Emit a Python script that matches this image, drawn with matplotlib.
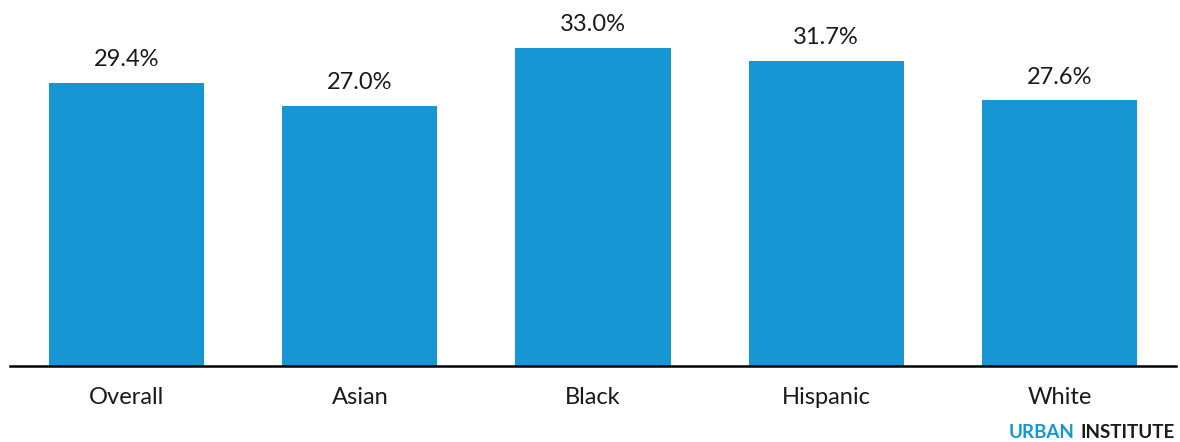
import matplotlib
matplotlib.use("Agg")
import matplotlib.pyplot as plt

plt.rcParams['font.family'] = ['Lato', 'DejaVu Sans']

categories = ["Overall", "Asian", "Black", "Hispanic", "White"]
values = [29.4, 27.0, 33.0, 31.7, 27.6]
value_labels = ["29.4%", "27.0%", "33.0%", "31.7%", "27.6%"]

BLUE = "#1696d2"
W, H = 1180, 442

fig = plt.figure(figsize=(W / 100, H / 100), dpi=100)
ax = fig.add_axes([10 / W, 1 - 366 / H, 1166 / W, 366 / H])

x = list(range(len(categories)))
ax.bar(x, values, width=0.665, color=BLUE, zorder=2)
ax.set_xlim(-0.5, len(categories) - 0.5)
ax.set_ylim(0, 38)

for s in ("top", "right", "left"):
    ax.spines[s].set_visible(False)
ax.spines["bottom"].set_linewidth(1.8)
ax.spines["bottom"].set_color("black")
ax.spines["bottom"].set_zorder(3)
ax.set_yticks([])
ax.set_xticks([])

for xi, v, lab in zip(x, values, value_labels):
    ax.annotate(lab, xy=(xi, v), xytext=(0, 12), textcoords="offset points",
                ha="center", va="baseline", fontsize=17, color="#1a1a1a")

for xi, cat in zip(x, categories):
    ax.annotate(cat, xy=(xi, 0), xytext=(0, -27.4), textcoords="offset points",
                ha="center", va="baseline", fontsize=17, color="#1a1a1a",
                annotation_clip=False)

# Branding in the bottom-right corner: blue "URBAN" followed by dark "INSTITUTE"
base_y = 1 - 438 / H
inst = fig.text(1175 / W, base_y, "INSTITUTE", ha="right", va="baseline",
                fontsize=13.5, fontweight="bold", color="#1a1a1a")
fig.canvas.draw()
bb = inst.get_window_extent(renderer=fig.canvas.get_renderer())
fig.text((bb.x0 - 6) / W, base_y, "URBAN", ha="right", va="baseline",
         fontsize=13.5, fontweight="bold", color=BLUE)

fig.savefig("out.png", dpi=100, facecolor="white")
